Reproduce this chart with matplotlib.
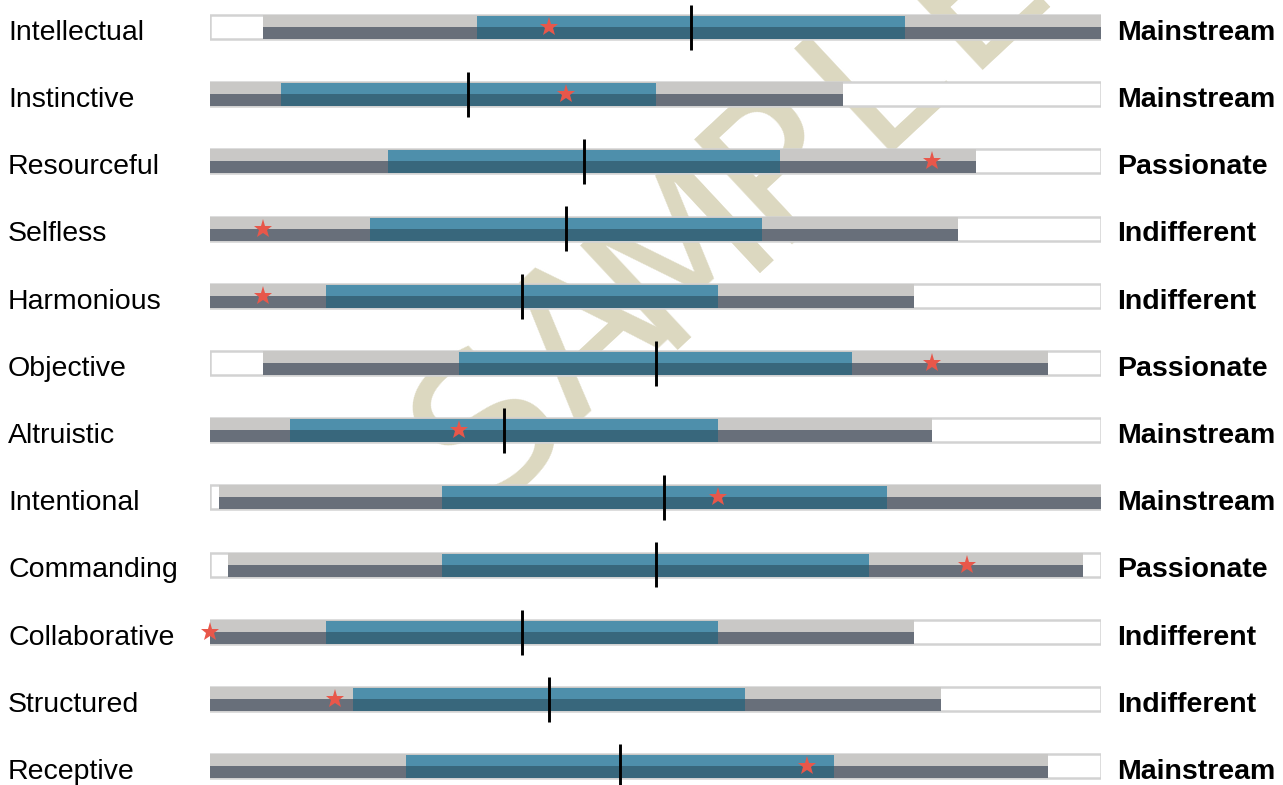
import matplotlib
matplotlib.use("Agg")
import matplotlib.pyplot as plt
from matplotlib.transforms import blended_transform_factory
from matplotlib.patches import Rectangle

plt.rcParams['font.family'] = ['Liberation Sans', 'DejaVu Sans']

traits = ["Intellectual", "Instinctive", "Resourceful", "Selfless", "Harmonious",
          "Objective", "Altruistic", "Intentional", "Commanding", "Collaborative",
          "Structured", "Receptive"]
outer_low = [6, 0, 0, 0, 0, 6, 0, 1, 2, 0, 0, 0]
outer_high = [100, 71, 86, 84, 79, 94, 81, 100, 98, 79, 82, 94]
inner_low = [30, 8, 20, 18, 13, 28, 9, 26, 26, 13, 16, 22]
inner_high = [78, 50, 64, 62, 57, 72, 57, 76, 74, 57, 60, 70]
median = [54, 29, 42, 40, 35, 50, 33, 51, 50, 35, 38, 46]
score = [38, 40, 81, 6, 6, 81, 28, 57, 85, 0, 14, 67]
verdict = ["Mainstream", "Mainstream", "Passionate", "Indifferent", "Indifferent",
           "Passionate", "Mainstream", "Mainstream", "Passionate", "Indifferent",
           "Indifferent", "Mainstream"]

W, H = 1283, 785
fig = plt.figure(figsize=(W / 100, H / 100), dpi=100)
ax = fig.add_axes([210 / W, 0, (1101 - 210) / W, 1])
ax.set_xlim(0, 100)
ax.set_ylim(11.28, -0.402)
ax.axis('off')
ax.patch.set_visible(False)

light_gray, dark_gray = '#c9c8c6', '#686f7a'
light_blue, dark_blue = '#4e8fab', '#38677c'
bar_h = 0.357
half = bar_h / 2

# diagonal "SAMPLE" watermark, one letter at a time, behind the bars
mark = "SAMPLE"
x0, y0 = 492, 428          # centre of the first letter, pixels from top-left
dx, dy = 96, -88           # step between letter centres
for k, ch in enumerate(mark):
    fig.text((x0 + k * dx) / W, 1 - (y0 + k * dy) / H, ch, fontsize=142,
             color='#dcd8c0', rotation=43, rotation_mode='anchor',
             ha='center', va='center', fontweight='normal', zorder=-1,
             family=['DejaVu Sans'])

for i, name in enumerate(traits):
    # empty track
    ax.add_patch(Rectangle((0, i - half), 100, bar_h, facecolor='white',
                           edgecolor='#d2d2d2', linewidth=1.8, zorder=1))
    # outer range, light top half and dark bottom half
    ax.barh(i - half / 2, outer_high[i] - outer_low[i], left=outer_low[i],
            height=half, color=light_gray, zorder=2)
    ax.barh(i + half / 2, outer_high[i] - outer_low[i], left=outer_low[i],
            height=half, color=dark_gray, zorder=2)
    # inner range
    ax.barh(i - half / 2 + 0.008, inner_high[i] - inner_low[i], left=inner_low[i],
            height=half - 0.016, color=light_blue, zorder=3)
    ax.barh(i + half / 2, inner_high[i] - inner_low[i], left=inner_low[i],
            height=half, color=dark_blue, zorder=3)
    # median tick
    ax.plot([median[i], median[i]], [i - 0.33, i + 0.34], color='black',
            linewidth=2.1, zorder=5, solid_capstyle='butt', clip_on=False)
    # score marker
    ax.plot(score[i], i, marker='*', markersize=14, color='#e8574a',
            markeredgewidth=0, zorder=6, clip_on=False)

tr = blended_transform_factory(fig.transFigure, ax.transData)
for i, name in enumerate(traits):
    ax.text(8 / W, i + 0.19, name, transform=tr, fontsize=20.5,
            ha='left', va='baseline', color='black')
    ax.text(1117 / W, i + 0.19, verdict[i], transform=tr, fontsize=20.5,
            ha='left', va='baseline', color='black', fontweight='bold')

fig.savefig("out.png", dpi=100, facecolor='white')
